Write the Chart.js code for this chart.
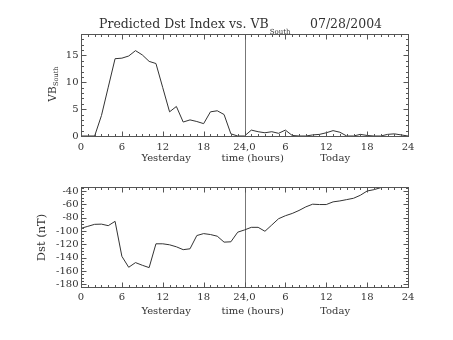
<!DOCTYPE html>
<html><head><meta charset="utf-8">
<script src="https://cdn.jsdelivr.net/npm/chart.js@4/dist/chart.umd.min.js"></script>
<style>
html,body{margin:0;padding:0;background:#fff;width:453px;height:340px;overflow:hidden}
canvas{position:absolute;left:0}
#c1{top:0}#c2{top:170px}
</style></head><body>
<canvas id="c1" width="453" height="170"></canvas>
<canvas id="c2" width="453" height="170"></canvas>
<script>
// ---- data ----
const vbHours = [0,1,2,3,4,5,6,7,8,9,10,11,12,13,14,15,16,17,18,19,20,21,22,23,24,25,26,27,28,29,30,31,32,33,34,35,36,37,38,39,40,41,42,43,44,45,46,47,48];
const vbSouth = [0,0,0,3.8,9.1,14.4,14.5,14.9,15.9,15.1,13.9,13.5,9.0,4.5,5.5,2.6,3.0,2.7,2.3,4.5,4.7,4.0,0.4,0,0,1.1,0.8,0.6,0.8,0.5,1.1,0.1,0,0,0.2,0.3,0.6,1.0,0.7,0,0,0.3,0.1,0,0,0.3,0.4,0.2,0];
const dstHours = [0,1,2,3,4,5,6,7,8,9,10,11,12,13,14,15,16,17,18,19,20,21,22,23,24,25,26,27,28,29,30,31,32,33,34,35,36,37,38,39,40,41,42,43,44];
const dstValues = [-96,-93,-90,-89.7,-92,-85.5,-138,-154.4,-147.4,-151.4,-154.9,-119.2,-119.2,-120.7,-123.7,-128,-126.7,-106.8,-103.9,-105.3,-107.8,-116.7,-116.2,-101.8,-98.4,-94.5,-94.5,-100.4,-91,-81.6,-77.1,-73.7,-69.2,-63.8,-59.8,-60.3,-60.3,-56.3,-54.9,-52.9,-50.9,-46.4,-40,-38,-35];
const xTickValues = [0,6,12,18,24,30,36,42,48];
const xTickLabels = ['0','6','12','18','24,0','6','12','18','24'];
const vbTicks = [0,5,10,15];
const dstTicks = [-180,-160,-140,-120,-100,-80,-60,-40];
const dayLabels = ['Yesterday','time (hours)','Today'];
const dayLabelHours = [12.5,25.2,37.3];
const titleMain = 'Predicted Dst Index vs. VB';
const titleSub = 'South';
const titleDate = '07/28/2004';

const FONT = 'DejaVu Serif';
const TXT = '#333';
const BOX = '#555';
const LINE = '#333';

function framePlugin(cfg){
  return {
    id:'frame'+cfg.id,
    beforeDatasetsDraw(chart){
      const {ctx, chartArea:a, scales:{x}} = chart;
      const px = Math.round(x.getPixelForValue(24))+0.5;
      ctx.save();
      ctx.strokeStyle='#777'; ctx.lineWidth=1;
      ctx.beginPath(); ctx.moveTo(px,a.top); ctx.lineTo(px,a.bottom); ctx.stroke();
      ctx.restore();
    },
    afterDraw(chart){
      const {ctx, chartArea:a, scales:{x,y}} = chart;
      const L=Math.round(a.left)+0.5, R=Math.round(a.right)+0.5, T=Math.round(a.top)+0.5, B=Math.round(a.bottom)+0.5;
      ctx.save();
      ctx.strokeStyle=BOX; ctx.lineWidth=1;
      ctx.strokeRect(L,T,R-L,B-T);
      ctx.beginPath();
      for(let h=0; h<=48; h++){
        const p=Math.round(x.getPixelForValue(h))+0.5;
        const len = h%6===0 ? 5 : 2.5;
        ctx.moveTo(p,B); ctx.lineTo(p,B-len);
        ctx.moveTo(p,T); ctx.lineTo(p,T+len);
      }
      for(let v=cfg.minorStart; v<=cfg.minorEnd; v+=cfg.minor){
        const p=Math.round(y.getPixelForValue(v))+0.5;
        const len = (v % cfg.major===0) ? 5 : 2.5;
        ctx.moveTo(L,p); ctx.lineTo(L+len,p);
        ctx.moveTo(R,p); ctx.lineTo(R-len,p);
      }
      ctx.stroke();
      // day labels
      ctx.fillStyle=TXT; ctx.font='10px "'+FONT+'"'; ctx.textAlign='center'; ctx.textBaseline='middle';
      dayLabels.forEach((t,i)=>ctx.fillText(t, x.getPixelForValue(dayLabelHours[i]), cfg.dayY));
      // y title
      ctx.save();
      ctx.translate(cfg.yTitleX, cfg.yTitleY);
      ctx.rotate(-Math.PI/2);
      if(cfg.id===1){
        ctx.textAlign='left'; ctx.textBaseline='alphabetic';
        ctx.font='10.5px "'+FONT+'"';
        ctx.fillText('VB',0,0);
        const w=ctx.measureText('VB').width;
        ctx.font='6.5px "'+FONT+'"';
        ctx.fillText('South',w+0.5,2);
      } else {
        ctx.textAlign='center'; ctx.textBaseline='middle';
        ctx.font='11.5px "'+FONT+'"';
        ctx.fillText('Dst (nT)',0,0);
      }
      ctx.restore();
      if(cfg.id===1){
        ctx.textAlign='left'; ctx.textBaseline='alphabetic';
        ctx.font='12.5px "'+FONT+'"';
        ctx.fillText(titleMain, 99, 28.3);
        const w=ctx.measureText(titleMain).width;
        ctx.font='7px "'+FONT+'"';
        ctx.fillText(titleSub, 99+w+1, 34);
        ctx.font='12.5px "'+FONT+'"';
        ctx.fillText(titleDate, 310, 28.3);
      }
      ctx.restore();
    }
  };
}

function makeChart(id, xs, ys, yMin, yMax, yTicks, padTop, xHeight, xPad, frameCfg){
  const pts = xs.map((h,i)=>({x:h, y:ys[i]}));
  return new Chart(document.getElementById(id), {
    type:'line',
    data:{datasets:[{data:pts, borderColor:LINE, borderWidth:1, pointRadius:0, tension:0, fill:false}]},
    options:{
      responsive:false, animation:false, devicePixelRatio:1,
      layout:{padding:{left:0,right:45,top:padTop,bottom:0}},
      plugins:{legend:{display:false}, tooltip:{enabled:false}},
      scales:{
        x:{type:'linear', min:0, max:48,
          grid:{display:false, drawTicks:false}, border:{display:false},
          afterBuildTicks:s=>{s.ticks = xTickValues.map(v=>({value:v}));},
          afterFit:s=>{s.height = xHeight;},
          ticks:{autoSkip:false, maxRotation:0, padding:xPad, color:TXT, font:{family:FONT,size:10},
            callback:(v,i)=>xTickLabels[i]}
        },
        y:{type:'linear', min:yMin, max:yMax,
          grid:{display:false, drawTicks:false}, border:{display:false},
          afterBuildTicks:s=>{s.ticks = yTicks.map(v=>({value:v}));},
          afterFit:s=>{s.width = 81;},
          ticks:{autoSkip:false, padding:2.5, color:TXT, font:{family:FONT,size:10},
            callback:v=>String(v)}
        }
      }
    },
    plugins:[framePlugin(frameCfg)]
  });
}

makeChart('c1', vbHours, vbSouth, 0, 19, vbTicks, 34, 34, 5,
  {id:1, minor:1, major:5, minorStart:0, minorEnd:19, dayY:158, yTitleX:56, yTitleY:101.7});
makeChart('c2', dstHours, dstValues, -184, -34, dstTicks, 17, 53, 4,
  {id:2, minor:5, major:20, minorStart:-180, minorEnd:-35, dayY:141.7, yTitleX:41.7, yTitleY:67.5});
</script>
</body></html>
